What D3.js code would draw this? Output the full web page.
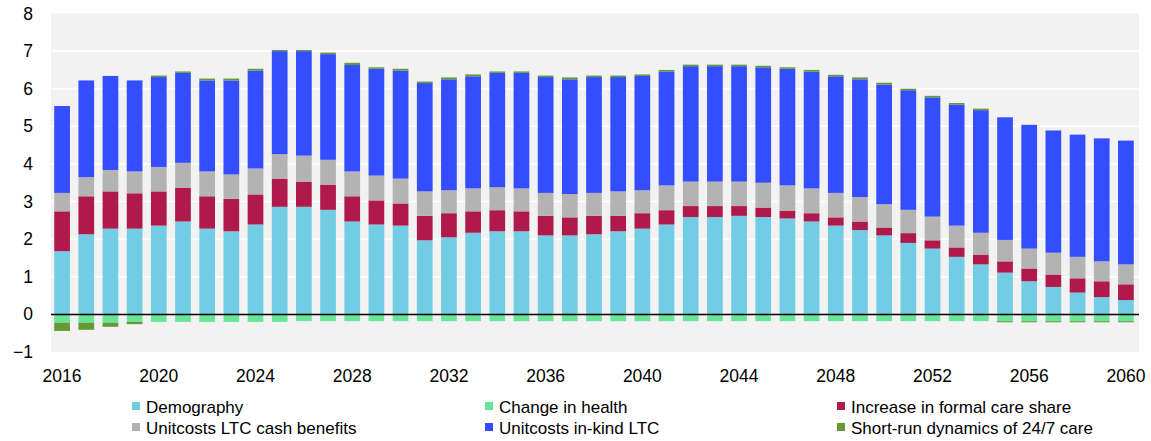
<!DOCTYPE html>
<html>
<head>
<meta charset="utf-8">
<script src="https://cdn.jsdelivr.net/npm/d3@7"></script>
<style>
  body { margin: 0; background: #fff; }
  svg { font-family: "Liberation Sans", Arial, sans-serif; }
</style>
</head>
<body>
<svg width="1151" height="441"></svg>
<script>
var years = d3.range(2016, 2061);
var yTicks = [-1, 0, 1, 2, 3, 4, 5, 6, 7, 8];
var xTicks = [2016, 2020, 2024, 2028, 2032, 2036, 2040, 2044, 2048, 2052, 2056, 2060];

var demography = [1.68, 2.13, 2.28, 2.28, 2.36, 2.47, 2.28, 2.21, 2.39, 2.86,
  2.86, 2.78, 2.47, 2.39, 2.36, 1.97, 2.05, 2.17, 2.21, 2.21,
  2.10, 2.10, 2.13, 2.21, 2.28, 2.39, 2.59, 2.59, 2.62, 2.59,
  2.55, 2.47, 2.36, 2.24, 2.10, 1.90, 1.75, 1.53, 1.33, 1.11,
  0.88, 0.73, 0.58, 0.46, 0.38];
var health = [-0.22, -0.22, -0.22, -0.20, -0.20, -0.20, -0.20, -0.20, -0.20, -0.20,
  -0.18, -0.18, -0.18, -0.18, -0.18, -0.18, -0.18, -0.18, -0.18, -0.18,
  -0.18, -0.18, -0.18, -0.18, -0.18, -0.18, -0.18, -0.18, -0.18, -0.18,
  -0.18, -0.18, -0.18, -0.18, -0.18, -0.18, -0.18, -0.18, -0.18, -0.18,
  -0.18, -0.18, -0.18, -0.18, -0.18];
var formalCare = [1.06, 1.01, 0.99, 0.94, 0.91, 0.90, 0.86, 0.86, 0.80, 0.75,
  0.67, 0.67, 0.67, 0.64, 0.59, 0.65, 0.64, 0.57, 0.56, 0.53,
  0.52, 0.48, 0.49, 0.41, 0.41, 0.38, 0.29, 0.29, 0.26, 0.25,
  0.21, 0.22, 0.22, 0.23, 0.21, 0.26, 0.22, 0.25, 0.26, 0.30,
  0.34, 0.33, 0.38, 0.42, 0.42];
var cashBenefits = [0.49, 0.51, 0.57, 0.58, 0.65, 0.66, 0.66, 0.65, 0.69, 0.65,
  0.69, 0.66, 0.66, 0.66, 0.66, 0.65, 0.61, 0.61, 0.61, 0.61,
  0.61, 0.62, 0.61, 0.65, 0.61, 0.66, 0.65, 0.65, 0.65, 0.66,
  0.67, 0.66, 0.65, 0.65, 0.62, 0.62, 0.63, 0.58, 0.58, 0.57,
  0.53, 0.58, 0.57, 0.53, 0.53];
var inKind = [2.31, 2.57, 2.50, 2.42, 2.39, 2.39, 2.42, 2.50, 2.60, 2.74,
  2.78, 2.81, 2.83, 2.84, 2.87, 2.88, 2.95, 2.98, 3.04, 3.07,
  3.08, 3.05, 3.08, 3.04, 3.04, 3.03, 3.07, 3.07, 3.07, 3.07,
  3.10, 3.10, 3.10, 3.13, 3.18, 3.18, 3.17, 3.22, 3.26, 3.26,
  3.29, 3.25, 3.25, 3.27, 3.29];
var shortRun = [-0.22, -0.19, -0.11, -0.06, 0.04, 0.04, 0.05, 0.05, 0.05, 0.03,
  0.03, 0.04, 0.06, 0.04, 0.05, 0.04, 0.05, 0.05, 0.04, 0.04,
  0.04, 0.05, 0.04, 0.04, 0.04, 0.04, 0.04, 0.04, 0.04, 0.04,
  0.04, 0.05, 0.04, 0.05, 0.05, 0.04, 0.04, 0.04, 0.04, -0.03,
  -0.03, -0.03, -0.03, -0.03, -0.03];

var seriesNames = ["Demography", "Change in health", "Increase in formal care share",
  "Unitcosts LTC cash benefits", "Unitcosts in-kind LTC", "Short-run dynamics of 24/7 care"];
var seriesColors = ["#72cde4", "#66e699", "#b0194b", "#b3b3b3", "#334dff", "#669933"];
var seriesValues = [demography, health, formalCare, cashBenefits, inKind, shortRun];

var svg = d3.select("svg");
var plotLeft = 51, plotRight = 1139, plotTop = 13.5, plotBottom = 352;

// Build rows for d3.stack
var rows = years.map(function(yr, i) {
  var r = { year: yr };
  seriesNames.forEach(function(name, j) { r[name] = seriesValues[j][i]; });
  return r;
});
var stacked = d3.stack()
  .keys(seriesNames)
  .offset(d3.stackOffsetDiverging)(rows);

var x = d3.scaleBand().domain(years).range([plotLeft - 1, plotRight - 1]).paddingInner(0.35).paddingOuter(0.175);
var y = d3.scaleLinear().domain([-1, 8]).range([plotBottom, plotTop]);

// Plot background
svg.append("rect")
  .attr("x", plotLeft).attr("y", plotTop)
  .attr("width", plotRight - plotLeft).attr("height", plotBottom - plotTop)
  .attr("fill", "#f2f2f2");

// Gridlines
svg.append("g").selectAll("line")
  .data(yTicks.filter(function(d) { return d > 0 && d < 8; }))
  .enter().append("line")
  .attr("x1", plotLeft).attr("x2", plotRight)
  .attr("y1", function(d) { return y(d); })
  .attr("y2", function(d) { return y(d); })
  .attr("stroke", "#ffffff")
  .attr("stroke-width", 1.5);

// Bars
svg.append("g").selectAll("g")
  .data(stacked)
  .enter().append("g")
  .attr("fill", function(d, i) { return seriesColors[i]; })
  .selectAll("rect")
  .data(function(d) { return d; })
  .enter().append("rect")
  .attr("x", function(d) { return x(d.data.year); })
  .attr("width", x.bandwidth())
  .attr("y", function(d) { return y(Math.max(d[0], d[1])); })
  .attr("height", function(d) { return Math.abs(y(d[0]) - y(d[1])); });

// Zero line
svg.append("line")
  .attr("x1", plotLeft).attr("x2", plotRight)
  .attr("y1", y(0)).attr("y2", y(0))
  .attr("stroke", "#000").attr("stroke-width", 1.5);

// Y axis labels
var yAxis = svg.append("g")
  .attr("transform", "translate(" + (plotLeft - 4) + ",0)")
  .call(d3.axisLeft(y).tickValues(yTicks).tickSize(0).tickPadding(14));
yAxis.select(".domain").remove();
yAxis.selectAll("text").attr("font-size", 17.5).attr("fill", "#000")
  .attr("font-family", "Liberation Sans, Arial, sans-serif");

// X axis labels
var xAxis = svg.append("g")
  .attr("transform", "translate(0," + plotBottom + ")")
  .call(d3.axisBottom(x).tickValues(xTicks).tickSize(0).tickPadding(18));
xAxis.select(".domain").remove();
xAxis.selectAll("text").attr("font-size", 17.5).attr("fill", "#000")
  .attr("font-family", "Liberation Sans, Arial, sans-serif");

// Legend: 2 rows x 3 columns
var legendX = [132, 485, 837];
var legendY = [402, 423];
var legend = svg.append("g").selectAll("g")
  .data(seriesNames)
  .enter().append("g")
  .attr("transform", function(d, i) {
    return "translate(" + legendX[i % 3] + "," + legendY[Math.floor(i / 3)] + ")";
  });
legend.append("rect")
  .attr("width", 8).attr("height", 8)
  .attr("fill", function(d, i) { return seriesColors[i]; });
legend.append("text")
  .attr("x", 14).attr("y", 10.7)
  .attr("font-size", 17)
  .attr("fill", "#000")
  .text(function(d) { return d; });
</script>
</body>
</html>
